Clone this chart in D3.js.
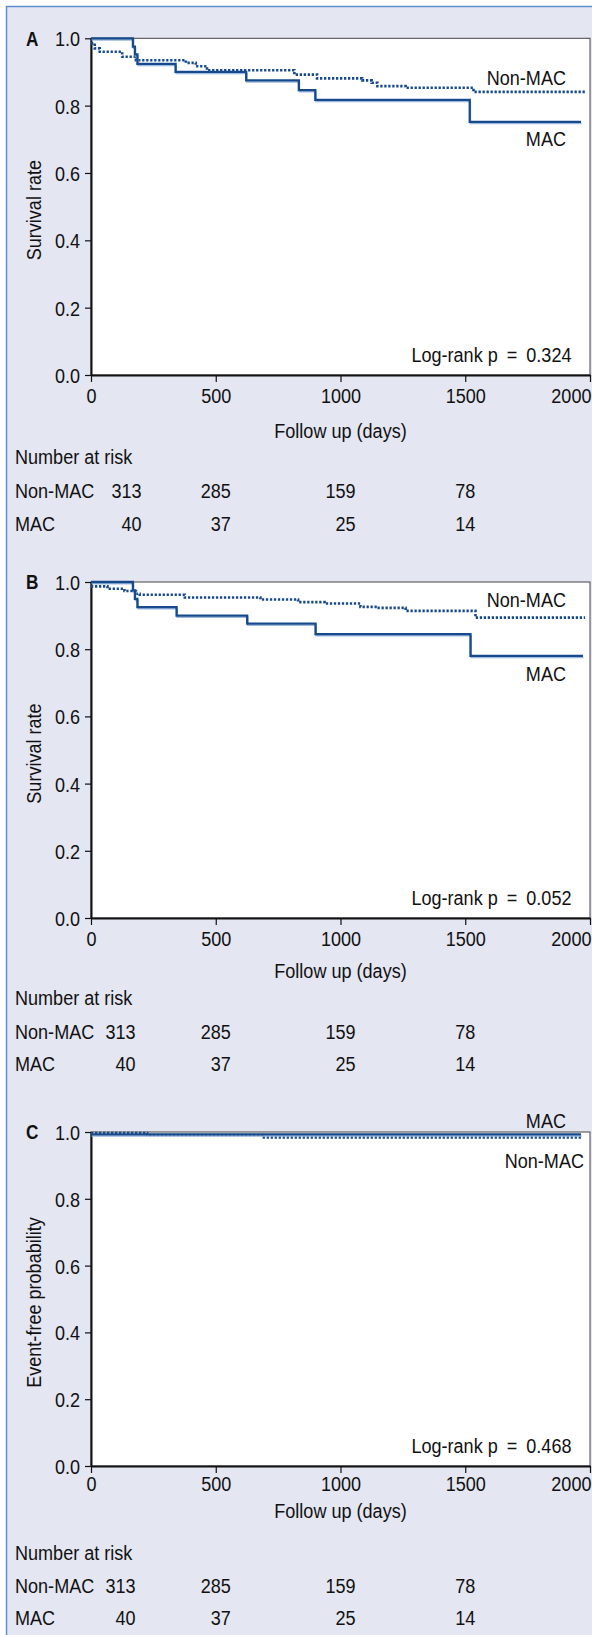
<!DOCTYPE html>
<html><head><meta charset="utf-8">
<script src="https://cdn.jsdelivr.net/npm/d3@7"></script>
<style>
html,body{margin:0;padding:0;background:#fff;}
svg{display:block;}
text{font-family:"Liberation Sans",Arial,sans-serif;font-size:21px;fill:#111;}
</style></head><body>
<svg id="chart" width="592" height="1635"></svg>
<script>
// ---- data ----
const xTicks = [0, 500, 1000, 1500, 2000];
const yTicks = [0, 0.2, 0.4, 0.6, 0.8, 1.0];
const riskTimes = [0, 500, 1000, 1500];
const riskNonMAC = [313, 285, 159, 78];
const riskMAC = [40, 37, 25, 14];
const panelLetters = ["A", "B", "C"];
const yTitles = ["Survival rate", "Survival rate", "Event-free probability"];
const pValues = ["0.324", "0.052", "0.468"];
const groupNames = ["Non-MAC", "MAC"];
// Kaplan-Meier steps [day, value]
const nonMacA = [[0,0.985],[15,0.97],[35,0.96],[125,0.945],[180,0.935],[380,0.927],[420,0.917],[465,0.905],[815,0.892],[906,0.881],[1087,0.875],[1125,0.868],[1148,0.858],[1261,0.853],[1533,0.841],[1980,0.841]];
const macA = [[0,1],[168,0.975],[176,0.952],[186,0.924],[339,0.9],[622,0.875],[833,0.846],[899,0.817],[1518,0.752],[1964,0.752]];
const nonMacB = [[0,0.987],[66,0.98],[134,0.973],[180,0.965],[195,0.962],[376,0.954],[679,0.948],[830,0.94],[936,0.936],[1080,0.926],[1148,0.923],[1261,0.914],[1541,0.894],[1980,0.894]];
const macB = [[0,1],[168,0.975],[176,0.95],[186,0.925],[343,0.9],[626,0.876],[900,0.845],[1521,0.78],[1972,0.78]];
const nonMacC = [[0,0.997],[225,0.991],[686,0.984],[1964,0.984]];
const macC = [[0,0.993],[1964,0.993]];

const seriesNon = [nonMacA, nonMacB, nonMacC];
const seriesMac = [macA, macB, macC];

// ---- layout ----
const W = 592, H = 1635;
const X0 = 91, X1 = 590;
const SX = 0.86; // horizontal condensing of text
const layout = [
  {top:38.3, bottom:375, tick:395, follow:430, number:456.7, rowNon:490, rowMac:523, firstCol:126.5,
   nonLab:[566,77], macLab:[566,138]},
  {top:582, bottom:918, tick:938, follow:970, number:997, rowNon:1031, rowMac:1063, firstCol:120.5,
   nonLab:[566,599], macLab:[566,673]},
  {top:1132, bottom:1466, tick:1483, follow:1510, number:1552, rowNon:1585, rowMac:1617, firstCol:120.5,
   nonLab:[584,1160], macLab:[566,1120]}
];
const lineColor = "#174a8c";

const svg = d3.select("#chart");
svg.append("rect").attr("x",0).attr("y",0).attr("width",W).attr("height",H).attr("fill","#fff");
svg.append("rect").attr("x",6.5).attr("y",6.5).attr("width",W+20).attr("height",H+20)
  .attr("fill","#e4e6f1").attr("stroke","#5b8fcf").attr("stroke-width",1.5);

const x = d3.scaleLinear().domain([0,2000]).range([X0,X1]);

function ctext(g, tx, ty, str, anchor, extra) {
  return g.append("text")
    .attr("transform", `translate(${tx},${ty})${extra || ""} scale(${SX},1)`)
    .attr("dy", "0.36em").attr("text-anchor", anchor || "start").text(str);
}

layout.forEach((L, i) => {
  const y = d3.scaleLinear().domain([0,1]).range([L.bottom, L.top]);
  const g = svg.append("g");
  // plot area
  g.append("rect").attr("x",X0).attr("y",L.top).attr("width",X1-X0).attr("height",L.bottom-L.top)
    .attr("fill","#fff").attr("stroke","#444").attr("stroke-width",1);

  // axes
  const ya = g.append("g").attr("transform",`translate(${X0},0)`)
    .call(d3.axisLeft(y).tickValues(yTicks).tickFormat(d3.format(".1f")).tickSize(6).tickSizeOuter(0).tickPadding(5));
  const xa = g.append("g").attr("transform",`translate(0,${L.bottom})`)
    .call(d3.axisBottom(x).tickValues(xTicks).tickFormat(d3.format("d")).tickSize(7).tickSizeOuter(0));
  [ya, xa].forEach(a => {
    a.select(".domain").attr("stroke","#111").attr("stroke-width",2);
    a.selectAll(".tick line").attr("stroke","#111").attr("stroke-width",1.2);
    a.selectAll("text").attr("font-size",null).attr("font-family",null).attr("fill","#111");
  });
  ya.selectAll("text").attr("x",0).attr("dy","0.36em")
    .attr("transform",`translate(-11,0) scale(${SX},1)`);
  xa.selectAll("text").attr("y",0).attr("dy","0.36em")
    .attr("transform", d => `translate(${d === 2000 ? 1 : 0},${L.tick - L.bottom}) scale(${SX},1)`)
    .filter(d => d === 2000).attr("text-anchor","end");

  // curves
  const line = d3.line().x(d => x(d[0])).y(d => y(d[1])).curve(d3.curveStepAfter);
  g.append("path").datum(seriesNon[i]).attr("d", line).attr("fill","none")
    .attr("stroke",lineColor).attr("stroke-width",2.6).attr("stroke-dasharray","2.3,1.7");
  g.append("path").datum(seriesMac[i]).attr("d", line).attr("fill","none")
    .attr("stroke","#9db9e0").attr("stroke-width",1.6).attr("transform","translate(0.6,1.6)");
  g.append("path").datum(seriesMac[i]).attr("d", line).attr("fill","none")
    .attr("stroke",lineColor).attr("stroke-width",2.3);

  // curve labels
  ctext(g, L.nonLab[0], L.nonLab[1], groupNames[0], "end");
  ctext(g, L.macLab[0], L.macLab[1], groupNames[1], "end");

  // log-rank
  ctext(g, 571.5, L.bottom - 20.5, "Log-rank p\u2002=\u2002" + pValues[i], "end");

  // panel letter
  ctext(g, 38.5, L.top, panelLetters[i], "end").attr("font-weight","bold").style("font-size","20px");

  // y title
  ctext(g, 33, (L.top + L.bottom)/2 + 3.5, yTitles[i], "middle", " rotate(-90)");

  // x title
  ctext(g, (X0 + X1)/2, L.follow, "Follow up (days)", "middle");

  // number at risk
  ctext(g, 15, L.number, "Number at risk");
  ctext(g, 15, L.rowNon, groupNames[0]);
  ctext(g, 15, L.rowMac, groupNames[1]);

  riskTimes.forEach((t, j) => {
    const center = j === 0 ? L.firstCol : x(t);
    const a = ctext(g, 0, L.rowNon, riskNonMAC[j], "end");
    const b = ctext(g, 0, L.rowMac, riskMAC[j], "end");
    const w = SX * Math.max(a.node().getComputedTextLength(), b.node().getComputedTextLength());
    const ex = center + w/2;
    a.attr("transform", `translate(${ex},${L.rowNon}) scale(${SX},1)`);
    b.attr("transform", `translate(${ex},${L.rowMac}) scale(${SX},1)`);
  });
});
</script>
</body></html>
